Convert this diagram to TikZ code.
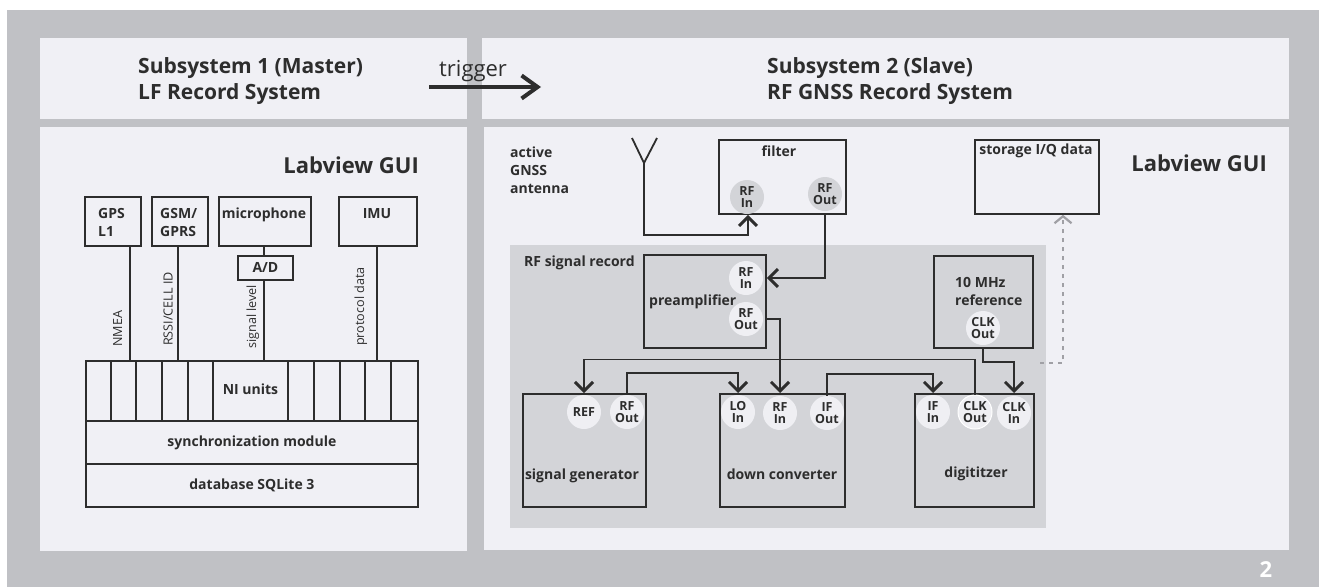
\documentclass[tikz,border=0pt]{standalone}
\usepackage{fontspec}
\setmainfont{Open Sans}
\usetikzlibrary{arrows.meta}

\definecolor{frame}{RGB}{192,193,197}
\definecolor{panel}{RGB}{240,240,245}
\definecolor{record}{RGB}{211,212,216}
\definecolor{portlight}{RGB}{239,239,243}
\definecolor{ink}{RGB}{45,45,45}
\definecolor{dashgray}{RGB}{160,160,165}

\tikzset{
	unit/.style={draw=ink, line width=1.8pt, inner sep=0pt, anchor=north west, text=ink, font=\bfseries\fontsize{14}{18}\selectfont},
	port/.style={circle, fill=portlight, minimum size=34pt, inner sep=0pt, align=center, text=ink, font=\bfseries\fontsize{12.5}{12.5}\selectfont},
	boxtext/.style={inner sep=0pt, text=ink, font=\bfseries\fontsize{14}{18}\selectfont},
	sidetext/.style={inner sep=0pt, text=ink, rotate=90, anchor=base west, font=\fontsize{12.6}{15}\selectfont},
	head/.style={inner sep=0pt, text=ink, align=left, anchor=base west, font=\bfseries\fontsize{21}{26}\selectfont},
	gui/.style={inner sep=0pt, text=ink, anchor=base east, font=\bfseries\fontsize{22}{26}\selectfont},
	wire/.style={draw=ink, line width=1.8pt},
	feed/.style={wire, -{Straight Barb[length=9pt,width=18pt,line width=3pt]}},
	trigarrow/.style={draw=ink, line width=4pt, -{Straight Barb[length=16pt,width=23pt,line width=4pt]}},
	store/.style={draw=dashgray, line width=1.6pt, dash pattern=on 4pt off 5pt, -{Straight Barb[length=7pt,width=17pt,line width=2.2pt]}}
}

\begin{document}
\begin{tikzpicture}[x=1pt,y=-1pt]

	\useasboundingbox (0,0) rectangle (1319,587);
	\fill[white] (0,0) rectangle (1319,587);
	\fill[frame] (7,10) rectangle (1319,587);

	\fill[panel] (40,38) rectangle (467,119);
	\fill[panel] (482,38) rectangle (1289,119);
	\fill[panel] (40,127) rectangle (467,551);
	\fill[panel] (484,127) rectangle (1289,550);
	\fill[record] (510,245) rectangle (1046,528);

	% header (base = last line)
	\node[head] (lfhead) at (138,99) {Subsystem 1 (Master)\\LF Record System};
	\node[head] (rfhead) at (767,99) {Subsystem 2 (Slave)\\RF GNSS Record System};
	\coordinate (trigstart) at (429,87);
	\coordinate (trigend) at (541,87);
	\draw[trigarrow] (trigstart) -- (trigend);
	\node[inner sep=0pt, text=ink, anchor=base west, font=\fontsize{22}{26}\selectfont] (triglabel) at (439,76) {trigger};

	% LF record system
	\node[gui] (lfgui) at (419,173) {Labview GUI};

	\node[unit, minimum width=56pt, minimum height=49pt] (gps) at (84,196) {};
	\node[unit, minimum width=56pt, minimum height=49pt] (gsm) at (151,196) {};
	\node[unit, minimum width=92pt, minimum height=49pt] (mic) at (218,196) {};
	\node[unit, minimum width=78pt, minimum height=49pt] (imu) at (338,196) {};
	\node[unit, minimum width=55pt, minimum height=24pt] (ad) at (237,255) {A/D};

	\node[boxtext, anchor=base west, align=left] (gpstext) at (98,236.5) {GPS\\L1};
	\node[boxtext, anchor=base west, align=left] (gsmtext) at (160,236.5) {GSM/\\GPRS};
	\node[boxtext, anchor=base] (mictext) at (264,218.5) {microphone};
	\node[boxtext, anchor=base] (imutext) at (377,218.5) {IMU};

	\node[unit, minimum width=332pt, minimum height=60pt] (ni) at (85,360) {};
	\node[unit, minimum width=332pt, minimum height=43pt] (sync) at (85,420) {synchronization module};
	\node[unit, minimum width=332pt, minimum height=43pt] (db) at (85,463) {database SQLite 3};
	\draw[wire] (110.7,360) -- (110.7,420) (136.3,360) -- (136.3,420) (162,360) -- (162,420)
		(187.7,360) -- (187.7,420) (213.3,360) -- (213.3,420) (287.7,360) -- (287.7,420)
		(313.7,360) -- (313.7,420) (339.7,360) -- (339.7,420) (365.3,360) -- (365.3,420)
		(391.3,360) -- (391.3,420);
	\node[boxtext] (nitext) at (250.5,389) {NI units};

	\coordinate (nmeain) at (130,360);
	\coordinate (gsmin) at (178,360);
	\coordinate (sigin) at (264,360);
	\coordinate (imuin) at (377,360);
	\draw[wire] (gps.south -| nmeain) -- (nmeain);
	\draw[wire] (gsm.south -| gsmin) -- (gsmin);
	\draw[wire] (mic.south -| sigin) -- (ad.north -| sigin);
	\draw[wire] (ad.south -| sigin) -- (sigin);
	\draw[wire] (imu.south -| imuin) -- (imuin);

	\node[sidetext] (nmea) at (122,347) {NMEA};
	\node[sidetext] (rssi) at (172.7,346) {RSSI/CELL ID};
	\node[sidetext] (siglevel) at (256,349) {signal level};
	\node[sidetext] (protocol) at (364,346) {protocol data};

	% RF GNSS record system
	\node[gui] (rfgui) at (1267,171) {Labview GUI};
	\node[boxtext, anchor=base west, align=left] (anttext) at (510,193) {active\\GNSS\\antenna};

	\coordinate (antl) at (632,138);
	\coordinate (antr) at (657,138);
	\coordinate (ant) at (644,163);
	\draw[wire] (antl) -- (ant) -- (antr);

	\node[unit, minimum width=127pt, minimum height=74pt] (filter) at (718,139) {};
	\node[unit, minimum width=124pt, minimum height=74pt] (storage) at (974,139) {};
	\node[unit, minimum width=122pt, minimum height=93pt] (preamp) at (643,254) {};
	\node[unit, minimum width=99pt, minimum height=92pt] (ref) at (933,255) {};
	\node[unit, minimum width=123pt, minimum height=113pt] (sg) at (522,393) {};
	\node[unit, minimum width=125pt, minimum height=113pt] (dc) at (719,393) {};
	\node[unit, minimum width=119pt, minimum height=113pt] (dig) at (914,393) {};

	\node[port, fill=record] (fin) at (747,197) {RF\\In};
	\node[port, fill=record] (fout) at (825,194) {RF\\Out};
	\node[port] (pin) at (746,278) {RF\\In};
	\node[port] (pout) at (746,319) {RF\\Out};
	\node[port] (refclk) at (983,328) {CLK\\Out};
	\node[port] (sgref) at (584,412) {REF};
	\node[port] (sgout) at (627,412) {RF\\Out};
	\node[port] (dclo) at (738,412) {LO\\In};
	\node[port] (dcrf) at (780,413) {RF\\In};
	\node[port] (dcif) at (827,413) {IF\\Out};
	\node[port] (digif) at (933,412) {IF\\In};
	\node[port, draw=white, line width=1pt] (digco) at (975,412) {CLK\\Out};
	\node[port] (digci) at (1014,413) {CLK\\In};

	\node[boxtext] (filtertext) at (779,151) {filter};
	\node[boxtext] (storagetext) at (1036,151) {storage I/Q data};
	\node[boxtext, anchor=base west] (recordtext) at (524,266) {RF signal record};
	\node[boxtext, anchor=base west] (preamptext) at (649,305) {preamplifier};
	\node[boxtext, anchor=base west, align=left] (reftext) at (955,305) {10 MHz\\reference};
	\node[boxtext] (sgtext) at (582,476) {signal generator};
	\node[boxtext] (dctext) at (782,474) {down converter};
	\node[boxtext] (digtext) at (976,474) {digititzer};

	\coordinate (antbend) at (748,235);
	\draw[feed] (ant) |- (antbend) -- (filter.south -| antbend);
	\draw[feed] (filter.south -| fout) |- (preamp.east |- pin);
	\draw[feed] (preamp.east |- pout) -| (dc.north -| dcrf);
	\draw[feed] (sgout.north) -- ++(0,-22) -| (dc.north -| dclo);
	\draw[feed] (dcif.north) -- ++(0,-22) -| (dig.north -| digif);
	\draw[feed] (digco.north) -- ++(0,-35) -| (sg.north -| sgref);
	\draw[feed] (ref.south -| refclk) -- ++(0,13) -| (dig.north -| digci);

	\coordinate (iqout) at (1040,363);
	\coordinate (iqbend) at (1063,363);
	\draw[store] (iqout) -- (iqbend) -- (storage.south -| iqbend);

	\node[inner sep=0pt, text=white, font=\bfseries\fontsize{22}{26}\selectfont] (page) at (1266,570) {2};

\end{tikzpicture}
\end{document}
